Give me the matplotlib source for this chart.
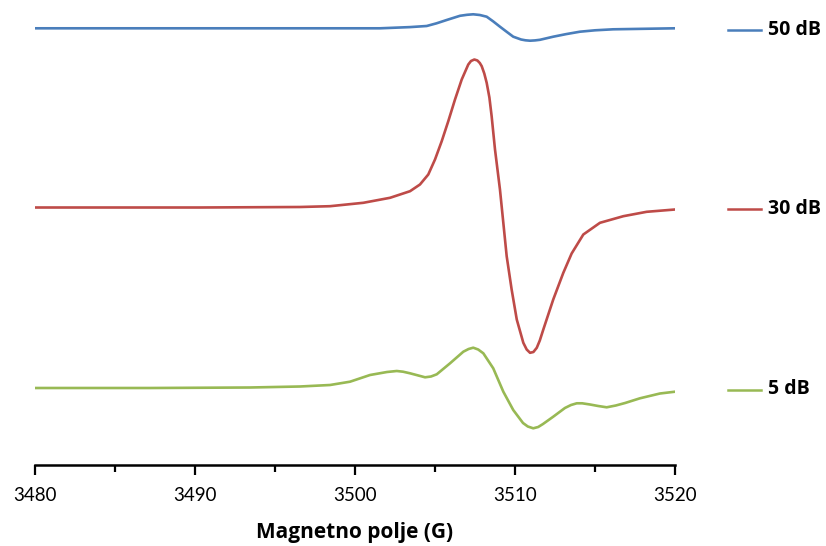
import matplotlib
matplotlib.use("Agg")
import matplotlib.pyplot as plt
from matplotlib.ticker import MultipleLocator

# Field (G) and intensity (arbitrary units)
field_50 = [3480, 3490, 3496.56, 3501.56, 3503.44, 3504.48, 3505.1, 3505.73, 3506.56, 3507.0,
            3507.39, 3507.8, 3508.23, 3508.63, 3509.06, 3509.48, 3509.89, 3510.38, 3510.65,
            3510.94, 3511.25, 3511.56, 3512.39, 3513.2, 3514.06, 3515.0, 3516.14, 3520]
sig_50 = [0, 0, 0, 0, 1.2, 2.3, 5, 8.3, 12.5, 13.5, 14, 13.3, 11.6, 7, 1.6, -3.5, -8.4, -11.2,
          -12.0, -12.4, -12.1, -11.5, -8.4, -5.8, -3.4, -2, -1, 0]

field_30 = [3480, 3484.06, 3490.31, 3496.56, 3498.44, 3500.52, 3502.19, 3503.44, 3504.06, 3504.58,
            3505.0, 3505.42, 3505.83, 3506.25, 3506.67, 3507.08, 3507.25, 3507.46, 3507.65,
            3507.8, 3507.92, 3508.08, 3508.23, 3508.4, 3508.54, 3508.75, 3509.06, 3509.27,
            3509.48, 3509.79, 3510.11, 3510.52, 3510.73, 3510.94, 3511.15, 3511.36, 3511.55,
            3511.77, 3512.39, 3513.02, 3513.54, 3514.27, 3515.31, 3516.77, 3518.23, 3520]
sig_30 = [0, 0, 0, 0.5, 1.3, 4.7, 9.7, 16.3, 23, 33, 48, 66.3, 86.3, 108, 128, 143, 146.5, 148,
          147, 144.5, 141.3, 134, 124.7, 110, 91.3, 58, 18, -15.3, -48.7, -82, -112, -135.3,
          -142, -145.3, -144.5, -140.3, -133, -122, -92, -65.3, -46, -27, -15.3, -8.7, -4.3, -2]

field_5 = [3480, 3487.19, 3493.44, 3496.56, 3498.44, 3499.69, 3500.94, 3502.0, 3502.61, 3503.0,
           3503.44, 3504.38, 3504.75, 3505.11, 3505.94, 3506.77, 3507.1, 3507.39, 3507.7,
           3508.02, 3508.64, 3509.27, 3509.89, 3510.5, 3510.8, 3511.14, 3511.45, 3511.75,
           3512.39, 3513.12, 3513.5, 3513.86, 3514.2, 3514.69, 3515.2, 3515.73, 3516.3,
           3516.88, 3517.81, 3519.06, 3520]
sig_5 = [0, 0, 0.5, 1.5, 3, 6.3, 13, 16, 17, 16.3, 14.7, 10.7, 11.5, 13.7, 24.7, 36.3, 39, 40.3,
         38.5, 34.7, 19.7, -3.7, -22, -35, -38.5, -40.3, -39, -36, -28.7, -20, -17, -15.3,
         -15.3, -16.5, -18, -19.3, -17.5, -15, -10.3, -5.5, -3.7]

labels = ["50 dB", "30 dB", "5 dB"]
colors = ["#4a7ebb", "#be4b48", "#98b954"]
offsets = [-28.3, -207.5, -388.0]

xticks = [3480, 3490, 3500, 3510, 3520]
xlabel = "Magnetno polje (G)"

plt.rcParams['font.family'] = ['Lato', 'DejaVu Sans']
bold_family = ['Open Sans', 'DejaVu Sans']

fig = plt.figure(figsize=(8.26, 5.46), dpi=100)
ax = fig.add_axes([35 / 826, 81 / 546, 640 / 826, 465 / 546])

series = [(field_50, sig_50), (field_30, sig_30), (field_5, sig_5)]
for (fx, sy), lab, col, off in zip(series, labels, colors, offsets):
    ax.plot(fx, [off + v for v in sy], color=col, lw=1.9, solid_joinstyle='round',
            solid_capstyle='round')
    # legend-like label at right
    ax.plot([3523.3, 3525.4], [off - 1.5, off - 1.5], color=col, lw=1.8, clip_on=False)
    ax.text(3525.8, off - 1.5, lab, va='center', ha='left', fontsize=14, fontweight='bold',
            family=bold_family, color='black', clip_on=False)

ax.set_xlim(3480, 3520)
ax.set_ylim(-465, 0)
ax.set_xticks(xticks)
ax.set_xticklabels([str(t) for t in xticks], fontsize=13.5)
ax.xaxis.set_minor_locator(MultipleLocator(5))
ax.tick_params(axis='x', which='major', length=7, width=1.6, direction='out', pad=9)
ax.tick_params(axis='x', which='minor', length=5, width=1.6, direction='out')
ax.set_yticks([])
for s in ['top', 'right', 'left']:
    ax.spines[s].set_visible(False)
ax.spines['bottom'].set_linewidth(1.8)
ax.set_xlabel(xlabel, fontsize=15, fontweight='bold', family=bold_family, labelpad=13)

fig.savefig("out.png", dpi=100)
